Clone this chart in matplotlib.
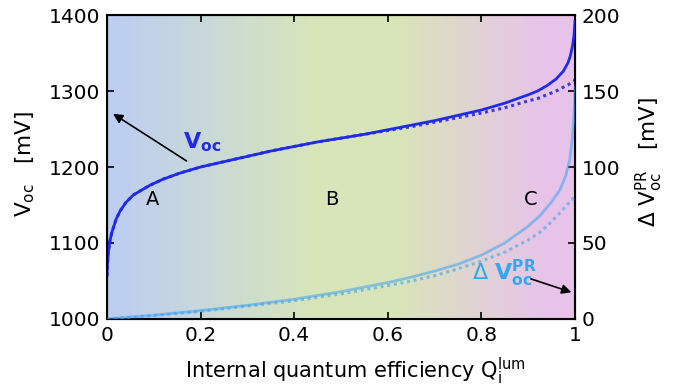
import numpy as np
import matplotlib
matplotlib.use("Agg")
import matplotlib.pyplot as plt
from matplotlib.colors import LinearSegmentedColormap

# Voc (left axis, mV) vs internal quantum efficiency
q_voc = [0, 0.001, 0.003, 0.006, 0.01, 0.0135, 0.02, 0.028, 0.04, 0.056, 0.075,
         0.092, 0.12, 0.156, 0.2, 0.25, 0.3, 0.35, 0.4, 0.45, 0.5, 0.55, 0.6,
         0.65, 0.7, 0.75, 0.8, 0.85, 0.9, 0.92, 0.94, 0.96, 0.975, 0.985,
         0.99, 0.995, 0.998, 1.0]
voc_solid = [1057, 1072, 1088, 1102, 1113, 1120, 1132, 1142, 1153, 1163, 1170,
             1176, 1184, 1192, 1200, 1207, 1214, 1221, 1227, 1233, 1238, 1243, 1249,
             1255, 1261, 1268, 1275, 1284, 1295, 1300, 1307, 1316, 1326, 1337,
             1346, 1360, 1374, 1392]
voc_dotted = [1057, 1072, 1088, 1102, 1113, 1120, 1132, 1142, 1153, 1163, 1170,
              1176, 1184, 1192, 1200, 1207, 1214, 1221, 1227, 1233, 1238, 1243, 1248,
              1253, 1259, 1265, 1271, 1278, 1287, 1290, 1295, 1300, 1305, 1308,
              1310, 1312, 1313, 1315]

# Delta Voc^PR (right axis, mV)
q_dv = [0, 0.1, 0.2, 0.3, 0.4, 0.5, 0.6, 0.65, 0.7, 0.75, 0.8, 0.85, 0.9,
        0.925, 0.95, 0.968, 0.98, 0.989, 0.994, 0.997, 0.999, 1.0]
dv_solid = [0, 2.5, 5.5, 9, 13, 18, 24, 27.5, 31.5, 36, 42, 50, 61,
            68, 77, 85, 94, 105, 118, 130, 142, 152]
dv_dotted = [0, 2.3, 5, 8.5, 12, 16.5, 22, 25, 28.5, 33, 38, 44, 52,
             57, 64, 70, 74, 77, 78.5, 79.5, 80, 81]

x_ticks = [0, 0.2, 0.4, 0.6, 0.8, 1]
x_tick_labels = ["0", "0.2", "0.4", "0.6", "0.8", "1"]
regions = [("A", 0.098), ("B", 0.48), ("C", 0.905)]

plt.rcParams['font.family'] = ['DejaVu Sans']
plt.rcParams['mathtext.fontset'] = 'dejavusans'

fig = plt.figure(figsize=(6.84, 3.86), dpi=100)
ax = fig.add_axes([0.1564, 0.1736, 0.6842, 0.7875])

# background gradient blue -> green -> pink
bg = LinearSegmentedColormap.from_list(
    "bg", [(0, "#bccdf4"), (0.45, "#d8e6b9"), (0.62, "#d9e5b9"),
           (0.93, "#e7c4e9"), (1, "#e8c2ea")])
ax.imshow(np.linspace(0, 1, 400).reshape(1, -1), cmap=bg, aspect="auto",
          extent=[0, 1, 1000, 1400], zorder=0)

ax.plot(q_voc, voc_solid, color="#1f2be6", lw=2, zorder=3)
ax.plot(q_voc, voc_dotted, color="#3a3ae0", lw=2.2, ls=(0, (1, 1.2)), zorder=2)

ax.set_xlim(0, 1)
ax.set_ylim(1000, 1400)
ax.set_xticks(x_ticks)
ax.set_xticklabels(x_tick_labels)
ax.set_yticks([1000, 1100, 1200, 1300, 1400])
ax.tick_params(direction="in", length=5, width=1.2, labelsize=14.5, top=True, pad=5)
ax.set_xlabel(r"Internal quantum efficiency Q$_\mathregular{i}^\mathregular{lum}$",
              fontsize=15)
ax.xaxis.set_label_coords(0.53, -0.12)
ax.set_ylabel(r"V$_\mathregular{oc}$   [mV]", fontsize=15.5)
ax.yaxis.set_label_coords(-0.15, 0.51)
for s in ax.spines.values():
    s.set_linewidth(1.5)

ax2 = ax.twinx()
ax2.plot(q_dv, dv_solid, color="#3fa3f2", lw=2, alpha=0.55, zorder=3)
ax2.plot(q_dv, dv_dotted, color="#3fa3f2", lw=2.2, alpha=0.6, ls=(0, (1, 1.2)), zorder=2)
ax2.set_ylim(0, 200)
ax2.set_yticks([0, 50, 100, 150, 200])
ax2.tick_params(direction="in", length=5, width=1.2, labelsize=14.5, pad=5)
ax2.set_ylabel(r"$\Delta$ V$_\mathregular{oc}^\mathregular{PR}$   [mV]", fontsize=15.5)
ax2.yaxis.set_label_coords(1.125, 0.515)
ax.set_xlim(0, 1)

for name, xq in regions:
    ax.text(xq, 1157, name, fontsize=14, ha="center", va="center", zorder=5)

ax.annotate("", xy=(0.008, 1272), xytext=(0.175, 1206),
            arrowprops=dict(arrowstyle="-|>", color="black", lw=1.2,
                            mutation_scale=14), zorder=5)
ax.text(0.163, 1233, r"$\mathbf{V_{oc}}$", color="#1f2be6", fontsize=16,
        ha="left", va="center", zorder=5)

ax2.annotate("", xy=(0.998, 17), xytext=(0.9, 27),
             arrowprops=dict(arrowstyle="-|>", color="black", lw=1.2,
                             mutation_scale=14), zorder=5)
ax2.text(0.78, 30, r"$\Delta\ \mathbf{V_{oc}^{PR}}$", color="#33a8f0", fontsize=16,
         ha="left", va="center", zorder=5)

fig.savefig("out.png", dpi=100)
